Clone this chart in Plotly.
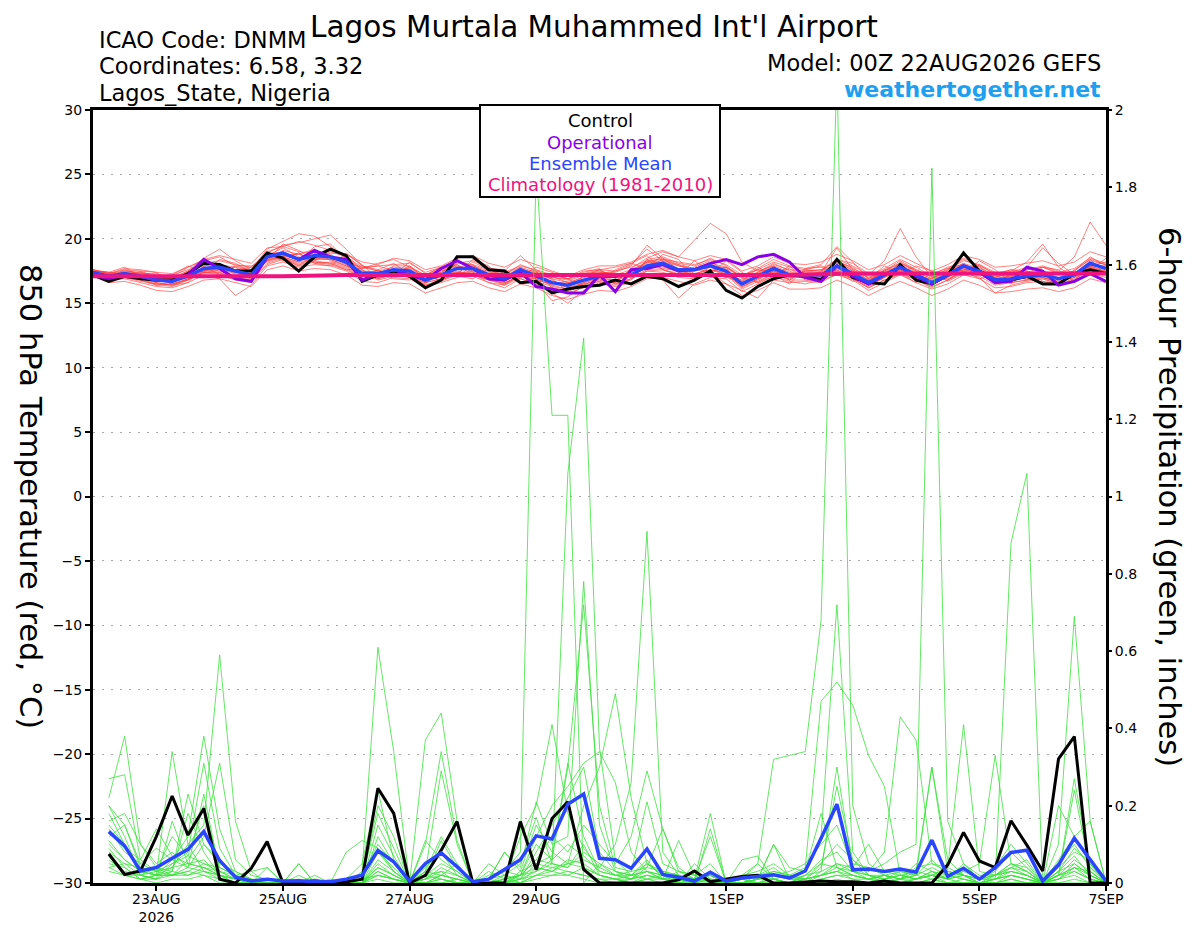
import pandas as pd
import plotly.graph_objects as go

# time axes (6-hourly, GEFS 00Z 22AUG2026 run)
temp_times = pd.date_range("2026-08-22 00:00", periods=65, freq="6h")
precip_times = pd.date_range("2026-08-22 06:00", periods=64, freq="6h")
clim_times = pd.date_range("2026-08-22", periods=17, freq="D")

tick_vals = ["2026-08-23", "2026-08-25", "2026-08-27", "2026-08-29",
             "2026-09-01", "2026-09-03", "2026-09-05", "2026-09-07"]
tick_text = ["23AUG<br>2026", "25AUG", "27AUG", "29AUG", "1SEP", "3SEP", "5SEP", "7SEP"]

# 850 hPa temperature (C)
control_temp = [
    17.2, 16.7, 17.1, 16.9, 16.8, 16.8, 17.3, 18.1, 18.0, 17.5, 17.5, 18.9, 18.5,
    17.5, 18.6, 19.2, 18.7, 16.7, 17.2, 17.5, 17.1, 16.2, 16.8, 18.6, 18.6, 17.6,
    17.5, 16.6, 16.7, 15.8, 16.1, 16.3, 16.4, 16.8, 16.5, 17.1, 16.9, 16.3, 16.8,
    17.5, 16.0, 15.4, 16.3, 16.9, 17.2, 17.1, 16.8, 18.4, 17.0, 16.6, 16.5, 18.0,
    16.8, 16.5, 17.2, 18.9, 17.5, 16.8, 16.8, 17.1, 16.5, 16.5, 17.3, 17.6, 17.3]
oper_temp = [
    17.2, 16.9, 17.2, 17.1, 16.8, 16.7, 17.2, 18.4, 17.7, 16.9, 16.7, 18.6, 18.9,
    18.4, 19.1, 18.6, 18.4, 16.8, 17.3, 17.6, 17.2, 16.8, 17.7, 18.3, 17.7, 16.9,
    16.8, 17.4, 16.3, 16.1, 15.8, 15.8, 17.2, 15.9, 17.6, 17.7, 18.0, 17.5, 17.6,
    18.1, 18.4, 18.0, 18.6, 18.8, 18.2, 17.0, 16.7, 17.9, 17.1, 16.5, 17.2, 17.8,
    17.1, 16.5, 17.2, 17.9, 17.4, 16.6, 16.7, 17.8, 17.5, 16.4, 16.7, 17.3, 16.7]
mean_temp = [
    17.4, 17.1, 17.3, 17.1, 16.8, 16.7, 17.1, 17.7, 17.8, 17.5, 17.2, 18.6, 18.9,
    18.4, 18.7, 18.6, 18.2, 17.3, 17.3, 17.6, 17.5, 16.8, 17.2, 17.7, 17.7, 17.2,
    16.9, 17.6, 17.1, 16.6, 16.4, 16.8, 17.1, 17.1, 17.2, 17.9, 18.1, 17.6, 17.6,
    17.9, 17.5, 16.5, 17.1, 17.7, 17.2, 17.2, 17.2, 17.9, 17.3, 16.6, 17.2, 17.8,
    17.2, 16.6, 17.2, 17.9, 17.5, 16.8, 16.9, 17.1, 17.2, 16.9, 17.2, 18.1, 17.7]
clim_temp = [17.1, 17.1, 17.1, 17.1, 17.2, 17.2, 17.2, 17.2, 17.2,
             17.2, 17.2, 17.2, 17.3, 17.3, 17.3, 17.3, 17.3]

t01 = [17.5, 17.3, 17.6, 17.2, 16.9, 17.0, 17.8, 18.3, 18.6, 17.9, 17.6, 19.2, 19.8,
       20.4, 20.2, 19.4, 18.5, 17.6, 17.0, 17.2, 17.9, 17.1, 16.8, 17.3, 18.2, 17.6,
       17.2, 18.0, 17.5, 16.2, 16.0, 16.6, 17.4, 17.3, 17.0, 18.4, 18.6, 18.1, 17.9,
       18.5, 17.9, 17.0, 16.6, 17.3, 17.7, 16.9, 17.0, 18.2, 17.8, 16.9, 17.5, 18.3,
       17.6, 17.1, 16.9, 17.5, 18.0, 17.2, 16.5, 17.4, 17.8, 17.3, 16.8, 17.9, 18.2]
t02 = [17.3, 17.0, 17.1, 17.4, 17.0, 16.5, 16.8, 17.5, 18.0, 17.8, 17.0, 18.3, 19.1,
       18.8, 19.2, 18.3, 17.9, 17.0, 17.6, 18.1, 17.2, 16.5, 17.5, 18.0, 17.4, 16.9,
       16.5, 17.3, 17.4, 16.9, 15.9, 16.5, 16.8, 16.6, 17.7, 18.5, 19.0, 18.6, 19.9,
       21.2, 20.4, 18.2, 17.5, 17.9, 16.8, 17.5, 17.6, 17.6, 16.9, 16.3, 17.0, 18.2,
       17.5, 16.3, 17.6, 18.4, 17.8, 17.1, 17.2, 16.8, 17.0, 17.3, 17.5, 18.6, 17.9]
t03 = [17.6, 17.4, 17.2, 16.9, 16.6, 16.4, 16.9, 17.9, 18.1, 17.2, 16.9, 18.9, 18.5,
       18.1, 18.4, 19.0, 18.6, 17.8, 17.5, 17.3, 17.8, 17.2, 17.6, 17.1, 17.9, 17.5,
       17.0, 17.8, 16.8, 16.5, 16.7, 17.2, 17.5, 17.2, 17.0, 17.6, 17.7, 17.5, 17.2,
       17.8, 17.2, 16.8, 17.4, 18.1, 17.5, 17.0, 17.5, 18.4, 17.9, 17.2, 18.3, 20.8,
       18.6, 17.0, 16.8, 17.6, 17.9, 16.6, 16.7, 17.5, 17.0, 16.6, 17.4, 17.7, 17.5]
t04 = [17.2, 16.9, 17.5, 17.3, 17.1, 16.9, 17.4, 17.6, 17.5, 17.1, 17.5, 18.7, 19.3,
       18.6, 18.1, 18.2, 17.8, 16.9, 17.2, 17.9, 17.9, 16.9, 17.0, 17.5, 17.2, 16.8,
       16.6, 17.1, 16.9, 17.0, 16.9, 17.3, 17.6, 17.0, 17.5, 18.2, 17.9, 17.4, 17.8,
       18.3, 17.4, 16.2, 16.9, 17.4, 16.8, 17.6, 17.9, 17.5, 16.9, 16.7, 17.6, 17.6,
       17.0, 16.9, 17.5, 18.1, 17.3, 16.5, 17.3, 17.6, 17.9, 17.5, 18.6, 21.3, 19.5]
t05 = [17.4, 17.2, 17.0, 16.8, 16.5, 16.6, 17.3, 18.0, 17.6, 16.9, 17.1, 18.4, 18.6,
       18.2, 19.0, 18.8, 18.0, 17.1, 17.0, 17.5, 17.6, 16.6, 16.9, 18.2, 18.0, 17.0,
       16.7, 17.4, 16.6, 15.2, 15.5, 16.4, 16.9, 16.5, 17.1, 17.8, 18.4, 17.9, 17.6,
       17.5, 17.8, 16.9, 17.3, 17.9, 17.4, 17.1, 16.9, 18.0, 17.1, 16.4, 17.0, 17.6,
       17.3, 16.8, 17.4, 18.0, 17.6, 17.0, 17.5, 18.2, 19.6, 17.8, 17.0, 17.8, 17.4]
t06 = [17.5, 17.1, 17.4, 17.0, 16.7, 16.8, 17.0, 17.4, 18.4, 18.1, 17.4, 18.8, 19.0,
       18.3, 19.4, 19.6, 18.4, 17.5, 17.4, 17.2, 17.0, 16.9, 17.4, 17.9, 17.5, 17.3,
       17.5, 18.7, 17.6, 16.8, 16.2, 17.1, 17.3, 17.4, 17.9, 19.5, 18.5, 17.6, 17.1,
       17.6, 17.3, 16.4, 17.0, 17.5, 17.0, 17.3, 17.4, 19.3, 17.6, 16.8, 17.4, 17.5,
       16.9, 16.5, 17.0, 17.7, 17.2, 16.9, 17.1, 16.9, 17.4, 17.2, 17.3, 18.3, 18.0]
t07 = [17.3, 16.8, 16.9, 16.6, 16.3, 16.2, 16.6, 17.2, 16.9, 15.6, 16.4, 17.9, 18.2,
       17.8, 18.0, 17.9, 17.5, 16.7, 16.6, 17.0, 16.9, 16.3, 16.6, 17.0, 17.3, 16.6,
       16.2, 16.9, 16.5, 16.0, 15.8, 16.2, 16.5, 16.3, 16.6, 17.2, 16.8, 15.4, 16.5,
       17.0, 16.9, 15.9, 16.5, 17.1, 16.7, 16.5, 16.8, 17.2, 16.8, 16.0, 16.6, 17.2,
       16.6, 16.1, 16.5, 17.2, 16.9, 16.2, 16.3, 16.6, 16.7, 16.4, 16.7, 17.3, 17.0]
t08 = [17.1, 16.9, 17.2, 17.0, 16.4, 16.5, 16.8, 17.4, 17.3, 17.0, 16.8, 18.1, 18.5,
       18.0, 18.3, 18.1, 17.7, 16.9, 16.9, 17.3, 17.1, 16.4, 16.8, 17.3, 17.5, 16.9,
       16.5, 17.2, 16.7, 16.3, 16.1, 16.5, 16.7, 16.4, 16.9, 17.5, 17.4, 17.0, 16.9,
       17.4, 16.5, 16.0, 15.4, 16.8, 16.6, 16.7, 16.6, 17.3, 16.9, 16.2, 16.8, 17.3,
       16.8, 16.3, 16.8, 17.4, 17.0, 15.8, 16.4, 16.7, 16.9, 16.5, 16.9, 17.6, 17.3]
t09 = [17.6, 17.3, 17.5, 17.4, 17.2, 17.0, 17.5, 18.1, 17.9, 17.6, 17.8, 19.0, 19.4,
       19.0, 18.9, 18.5, 18.1, 17.8, 17.9, 18.0, 18.1, 17.4, 17.8, 17.8, 18.0, 17.6,
       17.4, 17.9, 17.6, 17.2, 16.9, 17.5, 17.6, 17.5, 17.8, 18.3, 18.4, 18.2, 18.0,
       18.4, 18.0, 17.2, 17.6, 18.2, 17.8, 17.6, 17.5, 18.3, 17.7, 17.1, 17.7, 18.4,
       17.8, 17.1, 17.6, 18.3, 18.0, 17.4, 17.3, 17.6, 17.8, 17.4, 17.7, 18.5, 18.1]
t10 = [17.2, 17.3, 17.7, 17.6, 17.4, 17.3, 17.8, 18.4, 18.7, 18.4, 18.1, 19.3, 19.4,
       19.8, 19.5, 19.1, 18.8, 18.2, 18.0, 18.5, 18.3, 17.6, 17.9, 18.5, 18.7, 18.1,
       17.8, 18.4, 18.0, 17.5, 17.1, 17.6, 17.9, 17.9, 18.2, 18.8, 19.1, 18.6, 18.3,
       18.7, 18.4, 17.5, 17.9, 18.6, 18.1, 18.0, 18.2, 18.8, 18.3, 17.6, 18.0, 18.7,
       18.1, 17.5, 18.0, 18.7, 18.4, 17.8, 17.9, 18.1, 18.3, 17.9, 18.2, 19.0, 18.6]
t11 = [17.4, 17.2, 17.1, 16.9, 16.7, 16.8, 17.2, 17.6, 17.6, 17.3, 17.0, 18.5, 18.7,
       18.5, 18.6, 18.4, 17.9, 17.4, 17.5, 17.4, 17.3, 16.9, 17.3, 17.6, 17.8, 17.4,
       17.1, 17.7, 17.3, 16.9, 16.6, 17.0, 17.2, 17.1, 17.4, 18.1, 18.2, 17.9, 17.7,
       18.0, 17.7, 16.7, 17.3, 17.8, 17.3, 17.4, 17.3, 18.0, 17.5, 16.8, 17.3, 17.9,
       17.3, 16.7, 17.2, 17.8, 17.6, 17.0, 17.1, 17.3, 17.4, 17.0, 17.2, 18.0, 17.8]
t12 = [17.3, 17.0, 17.6, 17.5, 17.0, 16.9, 17.5, 18.5, 19.2, 18.3, 17.6, 18.2, 18.6,
       18.9, 18.2, 18.0, 17.6, 17.7, 18.1, 18.4, 17.8, 17.0, 17.3, 17.4, 17.1, 16.6,
       16.4, 17.0, 16.9, 16.4, 16.5, 17.1, 17.6, 17.8, 18.1, 18.7, 17.6, 17.3, 17.0,
       17.3, 17.0, 16.7, 17.7, 18.4, 17.9, 17.7, 18.0, 19.4, 18.2, 16.9, 17.4, 18.0,
       17.4, 16.9, 17.7, 18.5, 17.9, 17.3, 17.6, 17.3, 17.0, 16.7, 17.0, 17.8, 17.2]
t13 = [17.5, 17.4, 17.2, 16.8, 16.4, 16.5, 16.9, 17.3, 17.6, 17.8, 17.5, 18.7, 18.5,
       17.9, 18.8, 19.1, 18.7, 17.6, 16.8, 17.1, 17.4, 17.2, 17.8, 18.3, 17.9, 17.3,
       16.9, 17.4, 17.0, 16.6, 16.2, 16.6, 17.0, 16.8, 17.4, 18.2, 18.3, 18.0, 17.3,
       17.6, 17.2, 16.3, 16.8, 17.5, 17.2, 16.9, 16.8, 17.6, 17.0, 16.4, 17.2, 17.5,
       17.0, 16.4, 17.1, 17.6, 17.3, 16.7, 16.8, 17.0, 17.3, 16.9, 17.4, 17.9, 17.4]
t14 = [17.1, 16.6, 16.7, 16.4, 16.0, 15.9, 16.3, 16.8, 16.9, 16.6, 16.3, 17.6, 17.9,
       17.5, 17.7, 17.6, 17.2, 16.4, 16.3, 16.6, 16.5, 15.8, 16.2, 16.6, 16.7, 16.2,
       15.9, 16.5, 16.2, 15.6, 15.3, 15.7, 16.0, 15.9, 16.3, 16.9, 17.0, 16.7, 16.4,
       16.8, 16.5, 15.6, 16.0, 16.6, 16.1, 16.1, 16.2, 16.8, 16.3, 15.6, 16.2, 16.7,
       16.2, 15.6, 16.1, 16.8, 16.4, 15.8, 15.9, 16.1, 16.2, 15.9, 16.2, 16.9, 16.6]
t15 = [17.2, 16.8, 17.0, 16.7, 16.5, 16.3, 16.8, 17.4, 17.4, 17.0, 16.7, 18.0, 18.4,
       17.9, 18.2, 18.1, 17.6, 16.9, 17.0, 17.3, 17.2, 16.4, 16.8, 17.4, 17.3, 16.8,
       16.4, 17.2, 16.6, 15.8, 15.0, 16.0, 16.6, 16.6, 16.9, 17.5, 17.6, 17.2, 17.0,
       17.3, 17.2, 16.1, 16.7, 17.3, 16.8, 16.8, 16.9, 17.5, 16.9, 16.2, 16.8, 17.4,
       16.8, 16.2, 16.8, 17.5, 17.1, 16.4, 16.6, 16.8, 16.9, 16.5, 16.8, 17.7, 17.3]
t16 = [17.6, 17.3, 17.4, 17.3, 17.1, 17.2, 17.6, 18.1, 18.3, 18.0, 17.8, 18.9, 19.5,
       19.7, 20.0, 20.3, 19.2, 17.9, 17.5, 17.8, 17.7, 17.0, 17.4, 18.1, 18.3, 17.8,
       17.3, 17.8, 17.4, 17.0, 16.8, 17.3, 17.4, 17.2, 17.6, 18.2, 18.5, 18.0, 17.7,
       18.1, 17.8, 17.0, 17.4, 18.0, 17.6, 17.5, 17.4, 18.1, 17.6, 17.0, 17.5, 18.1,
       17.6, 17.0, 17.4, 18.1, 17.7, 17.2, 17.2, 17.4, 17.5, 17.2, 17.5, 18.4, 18.0]
t17 = [17.1, 16.9, 17.2, 17.0, 16.6, 16.4, 16.9, 17.5, 17.7, 17.4, 17.1, 18.3, 18.6,
       18.2, 18.5, 18.4, 18.0, 17.1, 17.2, 17.5, 17.4, 16.6, 16.9, 17.4, 17.4, 16.9,
       16.7, 17.4, 16.9, 16.4, 16.1, 16.6, 16.9, 16.8, 17.1, 17.8, 17.8, 17.5, 17.3,
       17.6, 17.4, 16.3, 16.9, 17.5, 17.0, 17.0, 17.0, 17.7, 17.1, 16.4, 17.0, 17.6,
       17.0, 16.5, 17.0, 17.7, 17.3, 16.6, 16.8, 17.0, 17.0, 16.7, 17.0, 17.9, 17.5]
t18 = [17.5, 17.4, 17.8, 17.1, 16.6, 17.2, 17.9, 17.4, 17.2, 17.9, 17.9, 18.3, 19.6,
       19.1, 18.3, 18.9, 18.8, 18.0, 16.9, 17.2, 18.2, 17.3, 16.7, 17.2, 18.4, 17.9,
       16.6, 17.0, 17.8, 17.4, 16.9, 16.3, 16.7, 17.6, 18.1, 17.7, 18.8, 18.4, 17.0,
       17.2, 18.3, 17.4, 16.6, 17.1, 17.9, 16.8, 16.7, 18.4, 18.1, 17.3, 16.7, 17.3,
       17.9, 17.5, 16.7, 17.3, 18.3, 17.6, 16.6, 16.8, 17.8, 17.6, 16.6, 17.5, 18.5]
t19 = [17.2, 16.8, 17.0, 17.5, 17.4, 16.4, 16.6, 17.9, 17.2, 16.8, 16.6, 18.8, 18.3,
       18.9, 18.1, 17.9, 18.9, 17.9, 17.6, 16.9, 16.8, 17.2, 17.8, 17.1, 16.9, 17.7,
       17.6, 16.9, 16.5, 17.2, 16.9, 17.4, 17.7, 16.5, 16.8, 18.4, 17.6, 17.2, 18.3,
       17.4, 17.0, 17.1, 17.8, 17.2, 16.5, 17.7, 17.8, 17.4, 16.7, 16.9, 17.9, 17.3,
       16.6, 17.3, 17.7, 17.5, 16.9, 17.2, 17.6, 17.5, 16.7, 16.5, 17.6, 18.4, 17.2]
t20 = [17.4, 17.0, 17.1, 17.3, 17.3, 17.0, 17.2, 17.5, 17.4, 17.6, 17.5, 18.3, 18.7,
       18.8, 18.4, 18.4, 18.4, 17.7, 17.9, 17.5, 17.1, 16.6, 17.6, 18.0, 17.2, 16.8,
       16.7, 17.5, 17.5, 17.1, 16.6, 16.8, 17.3, 17.5, 18.0, 19.2, 18.3, 17.4, 17.1,
       17.5, 17.8, 17.1, 17.6, 17.4, 16.9, 17.5, 17.6, 18.4, 17.5, 16.6, 17.6, 18.1,
       17.5, 17.2, 17.8, 18.0, 17.2, 17.0, 17.4, 17.8, 19.3, 18.1, 17.2, 17.9, 17.9]
member_temps = [t01, t02, t03, t04, t05, t06, t07, t08, t09, t10,
                t11, t12, t13, t14, t15, t16, t17, t18, t19, t20]

# 6-hour precipitation (inches)
control_precip = [
    0.075, 0.022, 0.031, 0.12, 0.225, 0.124, 0.193, 0.01,
    0.0, 0.038, 0.107, 0.0, 0.003, 0.005, 0.003, 0.003,
    0.01, 0.245, 0.18, 0.0, 0.02, 0.085, 0.159, 0.0,
    0.0, 0.0, 0.159, 0.034, 0.167, 0.21, 0.035, 0.0,
    0.0, 0.0, 0.0, 0.0, 0.008, 0.031, 0.003, 0.01,
    0.017, 0.02, 0.0, 0.0, 0.003, 0.005, 0.003, 0.003,
    0.0, 0.005, 0.0, 0.0, 0.0, 0.047, 0.131, 0.057,
    0.04, 0.161, 0.098, 0.031, 0.321, 0.379, 0.0, 0.0]
mean_precip = [
    0.133, 0.096, 0.031, 0.04, 0.064, 0.087, 0.133, 0.058,
    0.015, 0.005, 0.01, 0.005, 0.006, 0.003, 0.003, 0.01,
    0.02, 0.084, 0.055, 0.005, 0.05, 0.078, 0.042, 0.003,
    0.01, 0.034, 0.06, 0.122, 0.114, 0.204, 0.23, 0.064,
    0.06, 0.038, 0.088, 0.022, 0.015, 0.005, 0.028, 0.005,
    0.013, 0.017, 0.021, 0.013, 0.031, 0.116, 0.204, 0.034,
    0.036, 0.03, 0.036, 0.028, 0.111, 0.017, 0.038, 0.01,
    0.04, 0.079, 0.085, 0.005, 0.047, 0.116, 0.06, 0.005]

p01 = [0.22, 0.38, 0.10, 0.05, 0.08, 0.04, 0.10, 0.06,
       0.02, 0.00, 0.00, 0.00, 0.01, 0.00, 0.00, 0.00,
       0.02, 0.10, 0.05, 0.00, 0.03, 0.12, 0.05, 0.00,
       0.01, 0.03, 0.08, 1.85, 1.21, 1.21, 0.00, 0.05,
       0.02, 0.01, 0.05, 0.02, 0.00, 0.01, 0.03, 0.00,
       0.00, 0.01, 0.02, 0.03, 0.05, 0.10, 0.15, 0.04,
       0.02, 0.01, 0.03, 0.02, 0.06, 0.02, 0.04, 0.01,
       0.03, 0.08, 0.04, 0.00, 0.02, 0.06, 0.03, 0.00]
p02 = [0.27, 0.28, 0.06, 0.03, 0.12, 0.07, 0.05, 0.04,
       0.02, 0.01, 0.00, 0.00, 0.00, 0.02, 0.00, 0.00,
       0.03, 0.61, 0.34, 0.00, 0.02, 0.05, 0.03, 0.00,
       0.00, 0.02, 0.05, 0.17, 0.05, 1.06, 1.41, 0.35,
       0.06, 0.02, 0.03, 0.01, 0.02, 0.00, 0.01, 0.00,
       0.02, 0.05, 0.01, 0.00, 0.02, 0.06, 0.08, 0.03,
       0.01, 0.02, 0.01, 0.05, 0.03, 0.01, 0.02, 0.00,
       0.01, 0.04, 0.02, 0.00, 0.05, 0.10, 0.04, 0.01]
p03 = [0.15, 0.10, 0.03, 0.02, 0.34, 0.10, 0.03, 0.02,
       0.01, 0.00, 0.04, 0.00, 0.00, 0.00, 0.00, 0.01,
       0.05, 0.24, 0.06, 0.00, 0.37, 0.44, 0.16, 0.00,
       0.01, 0.08, 0.04, 0.21, 0.10, 0.12, 0.78, 0.15,
       0.03, 0.02, 0.01, 0.01, 0.11, 0.02, 0.05, 0.00,
       0.01, 0.05, 0.32, 0.33, 0.34, 0.68, 2.10, 0.20,
       0.05, 0.02, 0.01, 0.03, 0.02, 0.01, 0.05, 0.02,
       0.02, 0.04, 0.06, 0.00, 0.03, 0.07, 0.02, 0.00]
p04 = [0.12, 0.15, 0.05, 0.09, 0.06, 0.12, 0.38, 0.14,
       0.03, 0.01, 0.00, 0.00, 0.05, 0.00, 0.00, 0.00,
       0.01, 0.18, 0.09, 0.00, 0.04, 0.08, 0.02, 0.00,
       0.00, 0.01, 0.12, 0.20, 0.41, 0.18, 0.09, 0.04,
       0.10, 0.26, 0.91, 0.08, 0.02, 0.01, 0.00, 0.00,
       0.01, 0.02, 0.04, 0.01, 0.03, 0.12, 0.72, 0.08,
       0.02, 0.00, 0.01, 0.04, 0.05, 0.03, 0.02, 0.01,
       0.04, 0.10, 0.05, 0.00, 0.06, 0.12, 0.05, 0.00]
p05 = [0.20, 0.12, 0.02, 0.01, 0.05, 0.08, 0.31, 0.09,
       0.02, 0.00, 0.01, 0.00, 0.00, 0.01, 0.00, 0.00,
       0.02, 0.08, 0.03, 0.00, 0.10, 0.34, 0.11, 0.00,
       0.02, 0.03, 0.02, 0.10, 0.06, 0.30, 0.72, 0.20,
       0.04, 0.03, 0.21, 0.05, 0.03, 0.02, 0.02, 0.00,
       0.02, 0.03, 0.05, 0.02, 0.04, 0.47, 0.52, 0.46,
       0.33, 0.25, 0.02, 0.01, 0.03, 0.02, 0.01, 0.00,
       0.02, 0.05, 0.03, 0.00, 0.04, 0.08, 0.06, 0.00]
p06 = [0.10, 0.06, 0.03, 0.02, 0.04, 0.10, 0.15, 0.59,
       0.16, 0.03, 0.00, 0.00, 0.00, 0.00, 0.01, 0.00,
       0.00, 0.12, 0.05, 0.00, 0.01, 0.02, 0.05, 0.00,
       0.00, 0.00, 0.03, 0.15, 0.08, 0.05, 0.20, 0.30,
       0.49, 0.22, 0.05, 0.02, 0.01, 0.03, 0.00, 0.00,
       0.00, 0.01, 0.02, 0.01, 0.02, 0.05, 0.10, 0.06,
       0.03, 0.05, 0.08, 0.10, 1.85, 0.16, 0.05, 0.01,
       0.02, 0.03, 0.02, 0.00, 0.03, 0.05, 0.02, 0.00]
p07 = [0.08, 0.05, 0.04, 0.03, 0.02, 0.06, 0.12, 0.31,
       0.06, 0.02, 0.01, 0.00, 0.00, 0.00, 0.00, 0.00,
       0.01, 0.20, 0.12, 0.00, 0.03, 0.29, 0.10, 0.00,
       0.01, 0.02, 0.01, 0.08, 0.15, 0.22, 0.30, 0.08,
       0.03, 0.01, 0.04, 0.03, 0.02, 0.01, 0.01, 0.00,
       0.00, 0.01, 0.10, 0.04, 0.03, 0.18, 0.04, 0.02,
       0.01, 0.02, 0.00, 0.01, 0.02, 0.01, 0.03, 0.01,
       0.01, 0.88, 1.06, 0.00, 0.02, 0.04, 0.01, 0.00]
p08 = [0.06, 0.03, 0.02, 0.04, 0.03, 0.23, 0.10, 0.05,
       0.03, 0.01, 0.00, 0.00, 0.02, 0.00, 0.00, 0.00,
       0.00, 0.15, 0.07, 0.00, 0.11, 0.06, 0.03, 0.00,
       0.00, 0.01, 0.02, 0.12, 0.20, 0.25, 0.31, 0.34,
       0.26, 0.08, 0.03, 0.01, 0.03, 0.02, 0.00, 0.00,
       0.02, 0.01, 0.03, 0.02, 0.01, 0.04, 0.25, 0.06,
       0.02, 0.01, 0.02, 0.03, 0.30, 0.06, 0.02, 0.00,
       0.01, 0.02, 0.01, 0.00, 0.10, 0.69, 0.16, 0.00]
p09 = [0.05, 0.04, 0.01, 0.02, 0.06, 0.04, 0.23, 0.03,
       0.01, 0.00, 0.00, 0.00, 0.00, 0.01, 0.00, 0.00,
       0.00, 0.05, 0.02, 0.00, 0.01, 0.04, 0.02, 0.00,
       0.01, 0.00, 0.02, 0.06, 0.12, 0.08, 0.15, 0.10,
       0.05, 0.12, 0.29, 0.14, 0.04, 0.01, 0.02, 0.00,
       0.01, 0.02, 0.01, 0.00, 0.02, 0.03, 0.05, 0.04,
       0.03, 0.08, 0.43, 0.37, 0.05, 0.04, 0.41, 0.03,
       0.02, 0.05, 0.04, 0.00, 0.03, 0.09, 0.05, 0.00]
p10 = [0.04, 0.02, 0.02, 0.01, 0.16, 0.05, 0.04, 0.02,
       0.01, 0.00, 0.00, 0.00, 0.00, 0.00, 0.00, 0.00,
       0.00, 0.04, 0.02, 0.00, 0.00, 0.02, 0.01, 0.00,
       0.00, 0.00, 0.01, 0.03, 0.05, 0.04, 0.08, 0.05,
       0.03, 0.02, 0.05, 0.03, 0.02, 0.01, 0.18, 0.00,
       0.00, 0.01, 0.02, 0.01, 0.01, 0.02, 0.03, 0.05,
       0.04, 0.02, 0.03, 0.02, 0.04, 0.02, 0.03, 0.05,
       0.33, 0.05, 0.03, 0.00, 0.02, 0.27, 0.04, 0.00]
p11 = [0.20, 0.15, 0.04, 0.02, 0.03, 0.18, 0.08, 0.02,
       0.01, 0.00, 0.00, 0.00, 0.00, 0.00, 0.00, 0.00,
       0.00, 0.03, 0.01, 0.00, 0.02, 0.03, 0.00, 0.00,
       0.00, 0.01, 0.00, 0.04, 0.03, 0.06, 0.05, 0.02,
       0.01, 0.01, 0.02, 0.01, 0.01, 0.00, 0.14, 0.00,
       0.01, 0.00, 0.01, 0.02, 0.00, 0.03, 0.30, 0.04,
       0.10, 0.03, 0.02, 0.01, 0.02, 0.03, 0.02, 0.01,
       0.02, 0.03, 0.02, 0.00, 0.20, 0.12, 0.16, 0.00]
p12 = [0.18, 0.10, 0.02, 0.03, 0.05, 0.07, 0.20, 0.04,
       0.02, 0.00, 0.00, 0.00, 0.00, 0.00, 0.00, 0.00,
       0.00, 0.02, 0.01, 0.00, 0.01, 0.11, 0.04, 0.00,
       0.00, 0.00, 0.01, 0.05, 0.07, 0.31, 0.12, 0.03,
       0.02, 0.01, 0.03, 0.02, 0.00, 0.01, 0.02, 0.00,
       0.00, 0.02, 0.03, 0.02, 0.01, 0.05, 0.04, 0.03,
       0.02, 0.02, 0.01, 0.02, 0.30, 0.03, 0.02, 0.01,
       0.02, 0.04, 0.03, 0.00, 0.02, 0.24, 0.03, 0.00]
p13 = [0.11, 0.06, 0.03, 0.02, 0.02, 0.03, 0.05, 0.03,
       0.01, 0.00, 0.00, 0.00, 0.00, 0.00, 0.00, 0.00,
       0.00, 0.06, 0.03, 0.00, 0.00, 0.01, 0.00, 0.00,
       0.00, 0.00, 0.00, 0.02, 0.04, 0.05, 0.06, 0.04,
       0.02, 0.03, 0.04, 0.14, 0.03, 0.01, 0.12, 0.00,
       0.00, 0.01, 0.10, 0.01, 0.01, 0.02, 0.05, 0.03,
       0.02, 0.01, 0.02, 0.01, 0.03, 0.01, 0.02, 0.00,
       0.01, 0.03, 0.02, 0.00, 0.01, 0.05, 0.02, 0.00]
p14 = [0.09, 0.04, 0.01, 0.01, 0.03, 0.02, 0.04, 0.02,
       0.00, 0.00, 0.00, 0.00, 0.00, 0.00, 0.00, 0.00,
       0.00, 0.03, 0.01, 0.00, 0.00, 0.02, 0.01, 0.00,
       0.00, 0.01, 0.02, 0.04, 0.03, 0.02, 0.04, 0.02,
       0.01, 0.00, 0.01, 0.02, 0.01, 0.00, 0.03, 0.00,
       0.00, 0.00, 0.01, 0.00, 0.01, 0.02, 0.03, 0.02,
       0.01, 0.01, 0.02, 0.01, 0.02, 0.00, 0.01, 0.00,
       0.00, 0.02, 0.01, 0.00, 0.01, 0.03, 0.01, 0.00]
p15 = [0.14, 0.08, 0.05, 0.03, 0.04, 0.05, 0.06, 0.02,
       0.01, 0.00, 0.00, 0.00, 0.00, 0.00, 0.00, 0.00,
       0.00, 0.04, 0.02, 0.00, 0.01, 0.03, 0.02, 0.00,
       0.00, 0.00, 0.02, 0.03, 0.06, 0.10, 0.07, 0.03,
       0.02, 0.02, 0.03, 0.02, 0.01, 0.00, 0.02, 0.00,
       0.01, 0.00, 0.02, 0.01, 0.00, 0.02, 0.04, 0.02,
       0.01, 0.00, 0.01, 0.02, 0.01, 0.02, 0.01, 0.00,
       0.01, 0.02, 0.01, 0.00, 0.02, 0.04, 0.02, 0.00]
p16 = [0.07, 0.02, 0.01, 0.02, 0.02, 0.03, 0.02, 0.01,
       0.00, 0.00, 0.00, 0.00, 0.00, 0.00, 0.00, 0.00,
       0.00, 0.02, 0.01, 0.00, 0.00, 0.01, 0.00, 0.00,
       0.00, 0.00, 0.01, 0.02, 0.02, 0.03, 0.02, 0.01,
       0.01, 0.00, 0.02, 0.01, 0.00, 0.00, 0.01, 0.00,
       0.00, 0.00, 0.00, 0.00, 0.00, 0.01, 0.02, 0.01,
       0.00, 0.00, 0.01, 0.00, 0.01, 0.00, 0.00, 0.00,
       0.00, 0.01, 0.00, 0.00, 0.01, 0.02, 0.00, 0.00]
p17 = [0.16, 0.18, 0.10, 0.04, 0.02, 0.04, 0.03, 0.02,
       0.00, 0.00, 0.00, 0.00, 0.05, 0.00, 0.00, 0.08,
       0.11, 0.09, 0.03, 0.00, 0.02, 0.01, 0.00, 0.00,
       0.01, 0.08, 0.03, 0.05, 0.04, 0.03, 0.02, 0.01,
       0.00, 0.01, 0.02, 0.01, 0.00, 0.05, 0.01, 0.00,
       0.06, 0.07, 0.01, 0.00, 0.01, 0.02, 0.03, 0.01,
       0.01, 0.00, 0.00, 0.01, 0.02, 0.01, 0.00, 0.00,
       0.00, 0.01, 0.00, 0.00, 0.02, 0.03, 0.01, 0.00]
p18 = [0.13, 0.09, 0.06, 0.14, 0.07, 0.05, 0.04, 0.03,
       0.02, 0.03, 0.04, 0.00, 0.00, 0.00, 0.00, 0.00,
       0.00, 0.08, 0.04, 0.00, 0.03, 0.02, 0.01, 0.00,
       0.03, 0.01, 0.02, 0.06, 0.05, 0.04, 0.10, 0.02,
       0.01, 0.02, 0.06, 0.01, 0.01, 0.00, 0.02, 0.00,
       0.00, 0.01, 0.01, 0.00, 0.00, 0.01, 0.02, 0.02,
       0.01, 0.02, 0.01, 0.01, 0.02, 0.04, 0.02, 0.01,
       0.01, 0.02, 0.01, 0.00, 0.01, 0.04, 0.03, 0.00]
p19 = [0.04, 0.05, 0.02, 0.01, 0.02, 0.02, 0.03, 0.01,
       0.00, 0.00, 0.00, 0.00, 0.00, 0.00, 0.00, 0.00,
       0.01, 0.02, 0.01, 0.00, 0.00, 0.00, 0.01, 0.00,
       0.05, 0.02, 0.00, 0.02, 0.03, 0.05, 0.04, 0.02,
       0.01, 0.00, 0.01, 0.00, 0.00, 0.00, 0.01, 0.00,
       0.00, 0.00, 0.00, 0.00, 0.00, 0.00, 0.01, 0.00,
       0.00, 0.00, 0.00, 0.00, 0.01, 0.00, 0.00, 0.00,
       0.00, 0.00, 0.00, 0.00, 0.00, 0.01, 0.00, 0.00]
p20 = [0.03, 0.02, 0.01, 0.00, 0.01, 0.01, 0.02, 0.00,
       0.00, 0.00, 0.00, 0.00, 0.00, 0.00, 0.00, 0.00,
       0.00, 0.01, 0.00, 0.00, 0.00, 0.00, 0.00, 0.00,
       0.00, 0.00, 0.00, 0.01, 0.02, 0.02, 0.01, 0.00,
       0.00, 0.00, 0.00, 0.00, 0.00, 0.00, 0.00, 0.00,
       0.00, 0.00, 0.00, 0.00, 0.00, 0.00, 0.00, 0.00,
       0.00, 0.00, 0.00, 0.00, 0.00, 0.00, 0.00, 0.00,
       0.00, 0.00, 0.00, 0.00, 0.00, 0.00, 0.00, 0.00]
member_precip = [p01, p02, p03, p04, p05, p06, p07, p08, p09, p10,
                 p11, p12, p13, p14, p15, p16, p17, p18, p19, p20]

FONT = "DejaVu Sans"

# page body keeps its default 8px margin, so the figure sits 8px in;
# plot area then lands at 93..1106 x 110..883 on screen
def px(x):
    return (x - 93) / 1013

def py(y):
    return (883 - y) / 773

fig = go.Figure()

# ensemble members
for p in member_precip:
    fig.add_trace(go.Scatter(x=precip_times, y=p, yaxis="y2", mode="lines",
                             line=dict(color="rgb(60,225,60)", width=0.8)))
for t in member_temps:
    fig.add_trace(go.Scatter(x=temp_times, y=t, mode="lines",
                             line=dict(color="rgba(255,60,60,0.8)", width=0.8)))

# control / mean precipitation
fig.add_trace(go.Scatter(x=precip_times, y=control_precip, yaxis="y2", mode="lines",
                         line=dict(color="black", width=3)))
fig.add_trace(go.Scatter(x=precip_times, y=mean_precip, yaxis="y2", mode="lines",
                         line=dict(color="#2a45ff", width=3.5)))

# temperature lines
fig.add_trace(go.Scatter(x=temp_times, y=control_temp, mode="lines",
                         line=dict(color="black", width=3)))
fig.add_trace(go.Scatter(x=temp_times, y=oper_temp, mode="lines",
                         line=dict(color="#8a00e6", width=3)))
fig.add_trace(go.Scatter(x=temp_times, y=mean_temp, mode="lines",
                         line=dict(color="#2a45ff", width=3.5)))
fig.add_trace(go.Scatter(x=clim_times, y=clim_temp, mode="lines",
                         line=dict(color="#f0127f", width=4)))

fig.update_layout(
    width=1184, height=919,
    margin=dict(l=85, r=86, t=102, b=44),
    paper_bgcolor="white", plot_bgcolor="white",
    showlegend=False,
    font=dict(family=FONT, color="black"),
    xaxis=dict(type="date", range=["2026-08-22 00:00", "2026-09-07 00:00"],
               tickvals=tick_vals, ticktext=tick_text, automargin=False,
               ticks="outside", ticklen=5, tickwidth=1.5, tickcolor="black",
               ticklabelstandoff=-4,
               showgrid=False, zeroline=False,
               showline=True, linewidth=3, linecolor="black", mirror=True,
               tickfont=dict(size=14)),
    yaxis=dict(range=[-30, 30], dtick=5, ticks="outside", ticklen=5,
               tickwidth=1.5, tickcolor="black", automargin=False,
               showgrid=True, gridcolor="#aaaaaa", gridwidth=1.3, griddash="2px,7px",
               zeroline=False, showline=True, linewidth=3, linecolor="black",
               mirror=True, tickfont=dict(size=14)),
    yaxis2=dict(range=[0, 2], dtick=0.2, overlaying="y", side="right",
                ticks="outside", ticklen=5, tickwidth=1.5, tickcolor="black",
                showgrid=False, zeroline=False, showline=False, automargin=False,
                tickfont=dict(size=14)),
)

# legend box
fig.add_shape(type="rect", xref="paper", yref="paper",
              x0=px(480), x1=px(720), y0=py(197), y1=py(105),
              fillcolor="white", line=dict(color="black", width=2), layer="above")

legend_items = [("Control", "black", 121), ("Operational", "#8a00e6", 142),
                ("Ensemble Mean", "#2a45ff", 163),
                ("Climatology (1981-2010)", "#f0127f", 185)]
for text, color, ypix in legend_items:
    fig.add_annotation(text=text, xref="paper", yref="paper", x=px(600), y=py(ypix),
                       xanchor="center", yanchor="middle", showarrow=False,
                       font=dict(size=18, color=color, family=FONT))

# header texts
fig.add_annotation(text="Lagos Murtala Muhammed Int'l Airport", xref="paper", yref="paper",
                   x=px(594), y=py(8), xanchor="center", yanchor="top",
                   showarrow=False, font=dict(size=29.5, family=FONT))
for text, ypix in [("ICAO Code: DNMM", 40), ("Coordinates: 6.58, 3.32", 66),
                   ("Lagos_State, Nigeria", 93)]:
    fig.add_annotation(text=text, xref="paper", yref="paper", x=px(97), y=py(ypix),
                       xanchor="left", yanchor="middle", showarrow=False,
                       font=dict(size=22.5, family=FONT))
fig.add_annotation(text="Model: 00Z 22AUG2026 GEFS", xref="paper", yref="paper",
                   x=px(1103), y=py(63), xanchor="right", yanchor="middle",
                   showarrow=False, font=dict(size=22.5, family=FONT))
fig.add_annotation(text="<b>weathertogether.net</b>", xref="paper", yref="paper",
                   x=px(1103), y=py(89), xanchor="right", yanchor="middle",
                   showarrow=False, font=dict(size=22, color="#1ea0f0", family=FONT))

# axis titles (reading top to bottom)
fig.add_annotation(text="850 hPa Temperature (red, °C)", xref="paper", yref="paper",
                   x=px(31), y=py(496), xanchor="center", yanchor="middle",
                   textangle=90, showarrow=False, font=dict(size=30.5, family=FONT))
fig.add_annotation(text="6-hour Precipitation (green, inches)", xref="paper", yref="paper",
                   x=px(1170), y=py(497), xanchor="center", yanchor="middle",
                   textangle=90, showarrow=False, font=dict(size=30.5, family=FONT))

fig.write_html("out.html")
